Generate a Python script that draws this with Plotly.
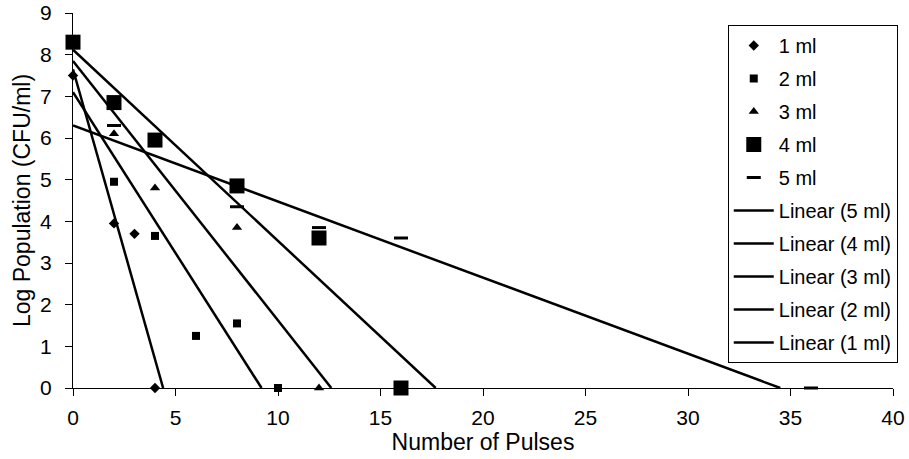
import plotly.graph_objects as go

# ---- data ----
x_1ml = [0, 2, 3, 4]
y_1ml = [7.5, 3.95, 3.7, 0]
x_2ml = [0, 2, 4, 6, 8, 10]
y_2ml = [8.3, 4.95, 3.65, 1.25, 1.55, 0]
x_3ml = [0, 2, 4, 8, 12]
y_3ml = [8.3, 6.1, 4.8, 3.85, 0]
x_4ml = [0, 2, 4, 8, 12, 16]
y_4ml = [8.3, 6.85, 5.95, 4.85, 3.6, 0]
x_5ml = [2, 8, 12, 16, 36]
y_5ml = [6.3, 4.35, 3.85, 3.6, 0]

series_names = ["1 ml", "2 ml", "3 ml", "4 ml", "5 ml"]
# linear trendlines (intercept at x=0, slope)
trend_intercept = [7.65, 7.1, 7.85, 8.12, 6.3]
trend_slope = [-1.74, -0.772, -0.623, -0.459, -0.1826]

x_ticks = [0, 5, 10, 15, 20, 25, 30, 35, 40]
y_ticks = [0, 1, 2, 3, 4, 5, 6, 7, 8, 9]

xs = [x_1ml, x_2ml, x_3ml, x_4ml, x_5ml]
ys = [y_1ml, y_2ml, y_3ml, y_4ml, y_5ml]
symbols = ["diamond", "square", "triangle-up", "square", "line-ew"]
sizes = [8, 8, 9, 15, 10]

FONT = "Liberation Sans, Arial, sans-serif"
fig = go.Figure()

for i, name in enumerate(series_names):
    marker = dict(symbol=symbols[i], size=sizes[i], color="black")
    if symbols[i] == "line-ew":
        marker["line"] = dict(color="black", width=3)
    fig.add_trace(go.Scatter(
        x=xs[i], y=ys[i], mode="markers", name=name, marker=marker,
        cliponaxis=False, legendgroup="m" + str(i)))

for i in reversed(range(len(series_names))):
    b = trend_intercept[i]
    m = trend_slope[i]
    x_end = -b / m
    fig.add_trace(go.Scatter(
        x=[0, x_end], y=[b, b + m * x_end], mode="lines",
        name="Linear (" + series_names[i] + ")",
        line=dict(color="black", width=2.5), legendgroup="l" + str(i)))

axis_common = dict(
    showline=True, linecolor="black", linewidth=1, mirror=False,
    ticks="outside", ticklen=7, tickcolor="black", tickwidth=1,
    showgrid=False, zeroline=False, automargin=False,
    tickfont=dict(family=FONT, size=21, color="black"),
)

fig.update_layout(
    width=909, height=459,
    margin=dict(l=73, r=11, t=13, b=71),
    paper_bgcolor="white", plot_bgcolor="white",
    font=dict(family=FONT, color="black"),
    xaxis=dict(range=[0, 40], tickvals=x_ticks, **axis_common,
               ticklabeloverflow="allow", ticklabelstandoff=4,
               title=dict(text="Number of Pulses", standoff=2,
                          font=dict(family=FONT, size=23, color="black"))),
    yaxis=dict(range=[0, 9], tickvals=y_ticks, **axis_common,
               ticklabelstandoff=9,
               title=dict(text="Log Population (CFU/ml)", standoff=3,
                          font=dict(family=FONT, size=23, color="black"))),
    legend=dict(x=0.7985, y=0.968, xanchor="left", yanchor="top",
                bordercolor="black", borderwidth=1, bgcolor="white",
                font=dict(family=FONT, size=20, color="black"),
                traceorder="grouped", tracegroupgap=4,
                itemwidth=40),
    showlegend=True,
)

fig.write_html("out.html")
